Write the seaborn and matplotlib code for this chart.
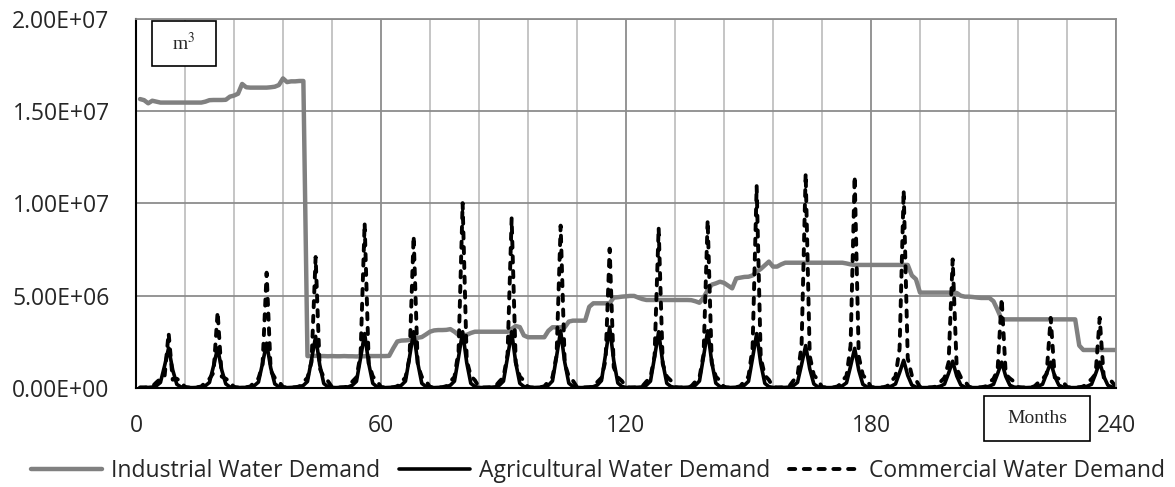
import pandas as pd
import numpy as np
import seaborn as sns
import matplotlib
matplotlib.use("Agg")
import matplotlib.pyplot as plt
from matplotlib.ticker import MultipleLocator, FuncFormatter
from matplotlib.patches import Rectangle

# monthly values in millions of m3, one row per year (months 1..240)
industrial = [
    15.66, 15.60, 15.43, 15.57, 15.52, 15.47, 15.47, 15.47, 15.47, 15.47, 15.47, 15.47,
    15.47, 15.47, 15.47, 15.47, 15.52, 15.60, 15.61, 15.61, 15.61, 15.62, 15.79, 15.85,
    15.95, 16.48, 16.30, 16.28, 16.28, 16.28, 16.28, 16.28, 16.30, 16.33, 16.42, 16.78,
    16.58, 16.62, 16.62, 16.64, 16.64, 1.73, 1.73, 1.74, 1.73, 1.73, 1.72, 1.73,
    1.72, 1.72, 1.73, 1.72, 1.72, 1.71, 1.72, 1.72, 1.73, 1.73, 1.73, 1.73,
    1.73, 1.74, 2.15, 2.52, 2.57, 2.58, 2.60, 2.65, 2.72, 2.76, 2.90, 3.05,
    3.12, 3.14, 3.14, 3.15, 3.19, 3.05, 2.87, 2.87, 2.88, 2.98, 3.05, 3.05,
    3.05, 3.05, 3.05, 3.05, 3.05, 3.05, 3.05, 3.20, 3.36, 3.30, 2.85, 2.75,
    2.75, 2.75, 2.75, 2.75, 3.10, 3.29, 3.29, 3.29, 3.29, 3.60, 3.65, 3.65,
    3.65, 3.65, 4.40, 4.59, 4.59, 4.59, 4.59, 4.60, 4.90, 4.92, 4.95, 4.97,
    4.99, 4.99, 4.90, 4.82, 4.77, 4.77, 4.77, 4.77, 4.77, 4.77, 4.77, 4.77,
    4.77, 4.77, 4.77, 4.76, 4.70, 4.62, 4.90, 5.30, 5.60, 5.67, 5.76, 5.70,
    5.55, 5.40, 5.94, 5.98, 6.02, 6.03, 6.10, 6.30, 6.45, 6.65, 6.85, 6.58,
    6.58, 6.70, 6.79, 6.79, 6.79, 6.79, 6.79, 6.79, 6.79, 6.79, 6.79, 6.79,
    6.79, 6.79, 6.79, 6.79, 6.79, 6.75, 6.70, 6.67, 6.67, 6.67, 6.67, 6.67,
    6.67, 6.67, 6.67, 6.67, 6.67, 6.67, 6.67, 6.67, 6.67, 6.10, 5.90, 5.17,
    5.17, 5.17, 5.17, 5.17, 5.17, 5.17, 5.17, 5.17, 5.15, 5.00, 4.95, 4.95,
    4.93, 4.90, 4.88, 4.88, 4.88, 4.70, 4.23, 3.72, 3.72, 3.72, 3.72, 3.72,
    3.72, 3.72, 3.72, 3.72, 3.72, 3.72, 3.72, 3.72, 3.72, 3.72, 3.72, 3.72,
    3.72, 3.72, 2.30, 2.06, 2.06, 2.06, 2.06, 2.06, 2.06, 2.06, 2.06, 2.06,
]

agricultural = [
    0.02, 0.02, 0.03, 0.05, 0.12, 0.30, 1.19, 2.17, 0.98, 0.20, 0.06, 0.03,
    0.02, 0.02, 0.03, 0.05, 0.12, 0.30, 1.19, 2.17, 0.98, 0.22, 0.06, 0.03,
    0.02, 0.03, 0.03, 0.06, 0.13, 0.32, 1.34, 2.43, 1.09, 0.22, 0.07, 0.03,
    0.02, 0.03, 0.04, 0.06, 0.14, 0.35, 1.54, 2.80, 1.26, 0.24, 0.07, 0.03,
    0.02, 0.03, 0.04, 0.06, 0.15, 0.36, 1.62, 2.95, 1.33, 0.25, 0.07, 0.03,
    0.02, 0.03, 0.04, 0.06, 0.15, 0.37, 1.68, 3.05, 1.37, 0.25, 0.08, 0.03,
    0.02, 0.03, 0.04, 0.06, 0.15, 0.37, 1.68, 3.05, 1.37, 0.25, 0.08, 0.03,
    0.02, 0.03, 0.04, 0.06, 0.15, 0.37, 1.68, 3.05, 1.37, 0.25, 0.08, 0.03,
    0.02, 0.03, 0.04, 0.06, 0.15, 0.38, 1.71, 3.10, 1.40, 0.26, 0.08, 0.03,
    0.02, 0.03, 0.04, 0.07, 0.16, 0.40, 1.82, 3.30, 1.49, 0.27, 0.08, 0.03,
    0.02, 0.03, 0.04, 0.06, 0.15, 0.37, 1.68, 3.05, 1.37, 0.25, 0.08, 0.03,
    0.02, 0.03, 0.04, 0.06, 0.15, 0.38, 1.71, 3.10, 1.40, 0.26, 0.08, 0.03,
    0.02, 0.03, 0.04, 0.06, 0.15, 0.36, 1.62, 2.95, 1.33, 0.25, 0.07, 0.03,
    0.02, 0.03, 0.03, 0.05, 0.13, 0.30, 1.27, 2.30, 1.04, 0.22, 0.06, 0.03,
    0.02, 0.02, 0.03, 0.05, 0.12, 0.28, 1.18, 2.15, 0.97, 0.20, 0.06, 0.03,
    0.02, 0.02, 0.03, 0.04, 0.10, 0.22, 0.83, 1.50, 0.68, 0.16, 0.05, 0.02,
    0.02, 0.02, 0.03, 0.04, 0.10, 0.21, 0.80, 1.45, 0.65, 0.16, 0.05, 0.02,
    0.02, 0.02, 0.03, 0.04, 0.10, 0.20, 0.77, 1.40, 0.63, 0.15, 0.05, 0.02,
    0.02, 0.02, 0.03, 0.04, 0.10, 0.20, 0.77, 1.40, 0.63, 0.15, 0.05, 0.02,
    0.02, 0.02, 0.03, 0.04, 0.10, 0.20, 0.77, 1.40, 0.63, 0.15, 0.05, 0.02,
]

commercial = [
    0.03, 0.03, 0.04, 0.08, 0.30, 0.50, 0.60, 2.98, 0.45, 0.50, 0.35, 0.05,
    0.03, 0.03, 0.04, 0.08, 0.30, 0.50, 0.83, 4.13, 0.62, 0.50, 0.35, 0.05,
    0.03, 0.03, 0.04, 0.08, 0.32, 0.52, 1.25, 6.25, 0.94, 0.55, 0.36, 0.05,
    0.03, 0.03, 0.04, 0.08, 0.33, 0.55, 1.42, 7.10, 1.07, 0.58, 0.38, 0.05,
    0.03, 0.03, 0.04, 0.09, 0.35, 0.58, 1.79, 8.95, 1.34, 0.62, 0.40, 0.05,
    0.03, 0.03, 0.04, 0.09, 0.34, 0.56, 1.65, 8.25, 1.24, 0.60, 0.39, 0.05,
    0.03, 0.03, 0.04, 0.10, 0.36, 0.60, 2.00, 10.02, 1.50, 0.65, 0.42, 0.05,
    0.03, 0.03, 0.04, 0.09, 0.35, 0.58, 1.84, 9.20, 1.38, 0.62, 0.40, 0.05,
    0.03, 0.03, 0.04, 0.09, 0.35, 0.58, 1.76, 8.80, 1.32, 0.62, 0.40, 0.05,
    0.03, 0.03, 0.04, 0.08, 0.33, 0.55, 1.51, 7.55, 1.13, 0.58, 0.38, 0.05,
    0.03, 0.03, 0.04, 0.09, 0.35, 0.58, 1.74, 8.70, 1.31, 0.62, 0.40, 0.05,
    0.03, 0.03, 0.04, 0.09, 0.35, 0.58, 1.82, 9.10, 1.37, 0.62, 0.40, 0.05,
    0.03, 0.03, 0.04, 0.10, 0.38, 0.62, 2.19, 10.95, 1.64, 0.68, 0.44, 0.05,
    0.03, 0.03, 0.04, 0.10, 0.40, 0.65, 2.33, 11.63, 1.74, 0.70, 0.45, 0.05,
    0.03, 0.03, 0.04, 0.10, 0.40, 0.65, 2.30, 11.49, 1.72, 0.70, 0.45, 0.05,
    0.03, 0.03, 0.04, 0.10, 0.38, 0.62, 2.14, 10.72, 1.61, 0.68, 0.44, 0.05,
    0.03, 0.03, 0.04, 0.08, 0.33, 0.55, 1.39, 6.97, 1.05, 0.58, 0.38, 0.05,
    0.03, 0.03, 0.04, 0.08, 0.30, 0.50, 0.97, 4.85, 0.73, 0.52, 0.35, 0.05,
    0.03, 0.03, 0.04, 0.08, 0.30, 0.48, 0.76, 3.80, 0.57, 0.50, 0.34, 0.05,
    0.03, 0.03, 0.04, 0.08, 0.30, 0.48, 0.76, 3.80, 0.57, 0.50, 0.34, 0.05,
]

months = list(range(1, 241))

df_ind = pd.DataFrame({"month": months, "value": np.array(industrial) * 1e6})
df_agr = pd.DataFrame({"month": months, "value": np.array(agricultural) * 1e6})
df_com = pd.DataFrame({"month": months, "value": np.array(commercial) * 1e6})

sns.set_style("white")
plt.rcParams["font.family"] = ["Open Sans", "DejaVu Sans"]
plt.rcParams["mathtext.fontset"] = "stix"

fig = plt.figure(figsize=(11.75, 4.87), dpi=100)
ax = fig.add_axes([0.1157, 0.2033, 0.8341, 0.7577])

sns.lineplot(data=df_ind, x="month", y="value", ax=ax, color="#808080", lw=3.2,
             label="Industrial Water Demand", estimator=None)
sns.lineplot(data=df_agr, x="month", y="value", ax=ax, color="black", lw=2.6,
             label="Agricultural Water Demand", estimator=None)
sns.lineplot(data=df_com, x="month", y="value", ax=ax, color="black", lw=2.8,
             label="Commercial Water Demand", estimator=None)
ax.lines[-1].set_linestyle((0, (1.6, 2.2)))
ax.lines[-1].set_dash_capstyle("round")

ax.set_xlim(0, 240)
ax.set_ylim(0, 2e7)
ax.xaxis.set_major_locator(MultipleLocator(60))
ax.xaxis.set_minor_locator(MultipleLocator(12))
ax.yaxis.set_major_locator(MultipleLocator(5e6))
ax.yaxis.set_major_formatter(FuncFormatter(lambda v, p: "{:.2E}".format(v)))
ax.set_axisbelow(True)
ax.grid(which="minor", axis="x", color="#c0c0c0", lw=1.3)
ax.grid(which="major", axis="x", color="#8c8c8c", lw=1.3)
ax.grid(which="major", axis="y", color="#8c8c8c", lw=1.3)
ax.tick_params(which="minor", length=0)
ax.tick_params(which="major", length=8, width=1.3, color="black",
               direction="out", labelsize=16.5, pad=11)
ax.set_xlabel("")
ax.set_ylabel("")

for s in ["left", "bottom"]:
    ax.spines[s].set_color("black")
    ax.spines[s].set_linewidth(1.5)
for s in ["top", "right"]:
    ax.spines[s].set_color("#8c8c8c")
    ax.spines[s].set_linewidth(1.3)

handles, labels = ax.get_legend_handles_labels()
ax.get_legend().remove()
fig.legend(handles, labels, loc="center", bbox_to_anchor=(0.509, 0.032), ncol=3,
           frameon=False, fontsize=16.5, handlelength=3.1, handletextpad=0.4,
           columnspacing=0.8)

# unit boxes
fig.add_artist(Rectangle((0.1294, 0.8645), 0.0545, 0.0924, transform=fig.transFigure,
                         facecolor="white", edgecolor="black", lw=1.2, zorder=5))
fig.text(0.1566, 0.9107, r"m$^\mathrm{3}$", ha="center", va="center", fontsize=14,
         family="Liberation Serif", zorder=6)
fig.add_artist(Rectangle((0.8374, 0.0945), 0.0902, 0.0924, transform=fig.transFigure,
                         facecolor="white", edgecolor="black", lw=1.2, zorder=5))
fig.text(0.8826, 0.1407, "Months", ha="center", va="center", fontsize=14,
         family="Liberation Serif", zorder=6)

fig.savefig("out.png", dpi=100)
